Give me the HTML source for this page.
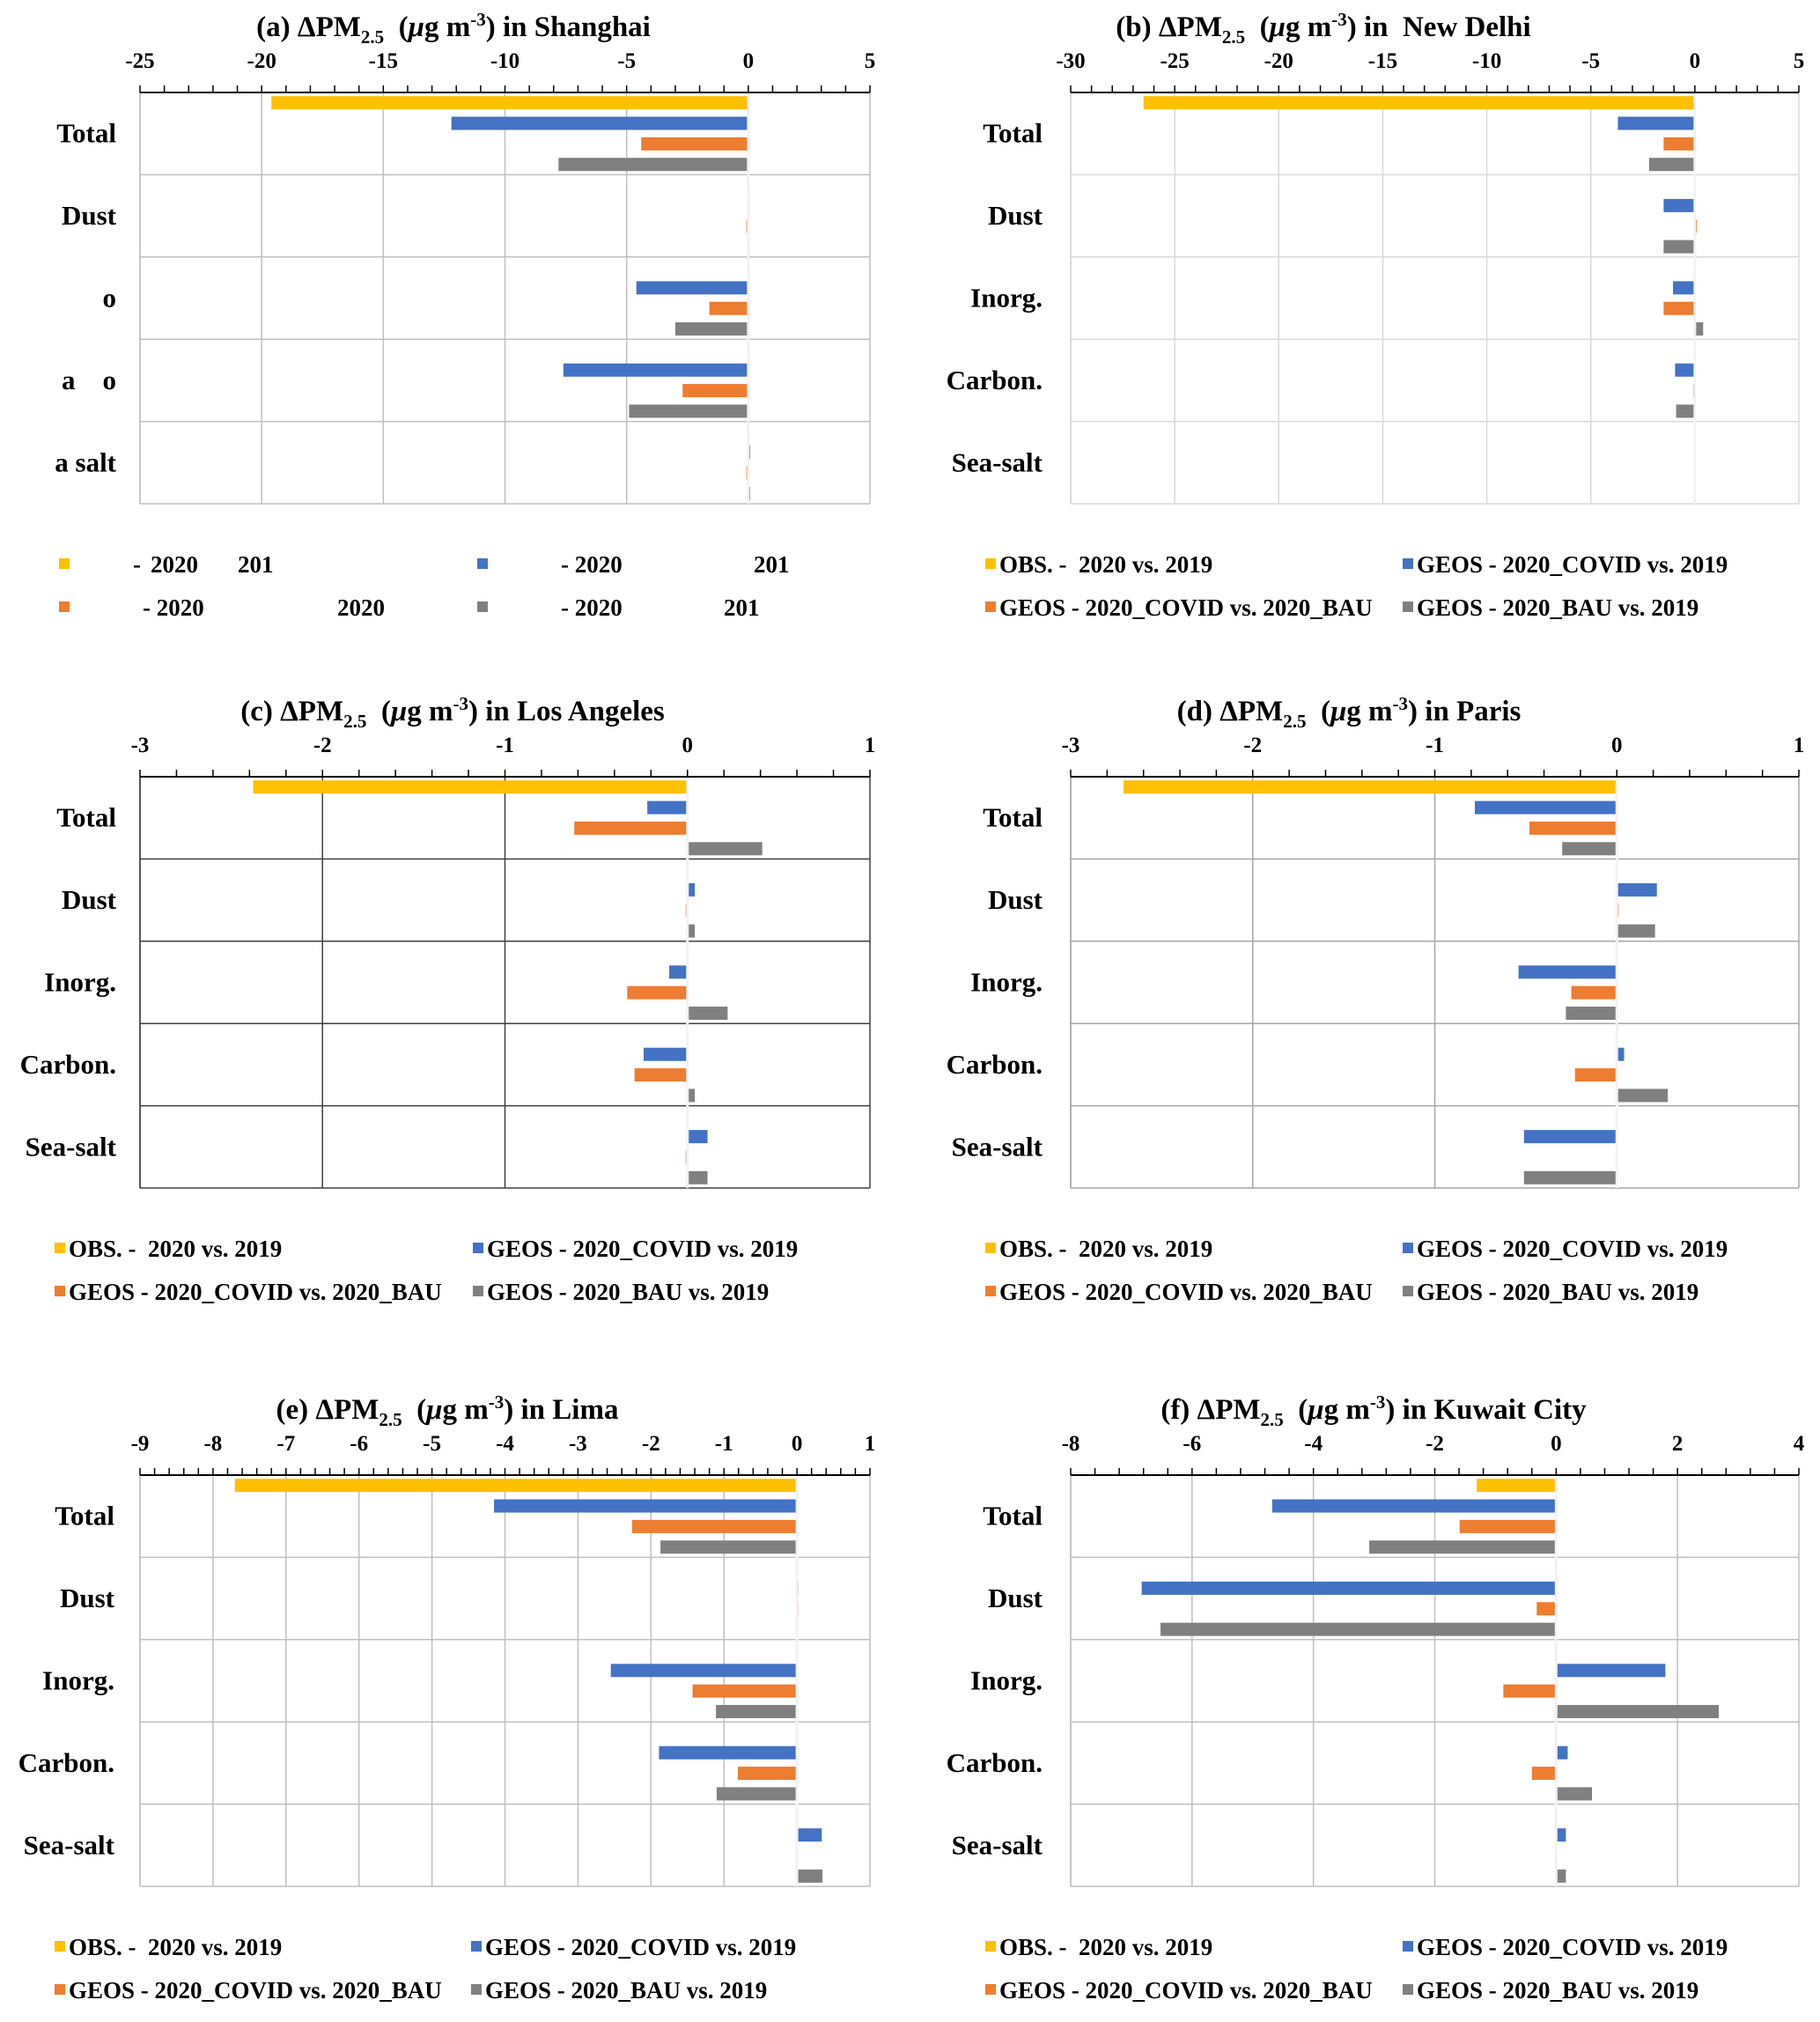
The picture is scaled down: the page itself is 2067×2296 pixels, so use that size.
<!DOCTYPE html>
<html><head><meta charset="utf-8">
<style>
html,body{margin:0;padding:0;background:#fff;}
svg{display:block;font-family:"Liberation Serif",serif;font-weight:bold;}
text{white-space:pre;}
</style></head>
<body>
<svg id="fig" width="2067" height="2296" viewBox="0 0 2067 2296" xmlns="http://www.w3.org/2000/svg"></svg>
<script>
const categories = ["Total","Dust","Inorg.","Carbon.","Sea-salt"];
const shanghaiLabels = ["Total","Dust","o","a    o","a salt"];
const shanghaiObs = [-19.6,0,0,0,0];
const shanghaiCovid = [-12.2,0.05,-4.6,-7.6,0.08];
const shanghaiCovidBau = [-4.4,-0.08,-1.6,-2.7,-0.08];
const shanghaiBau = [-7.8,0.05,-3.0,-4.9,0.08];
const delhiObs = [-26.5,0,0,0,0];
const delhiCovid = [-3.7,-1.5,-1.05,-0.95,0];
const delhiCovidBau = [-1.5,0.1,-1.5,-0.08,0];
const delhiBau = [-2.2,-1.5,0.4,-0.9,0];
const laObs = [-2.38,0,0,0,0];
const laCovid = [-0.22,0.04,-0.1,-0.24,0.11];
const laCovidBau = [-0.62,-0.01,-0.33,-0.29,-0.01];
const laBau = [0.41,0.04,0.22,0.04,0.11];
const parisObs = [-2.71,0,0,0,0];
const parisCovid = [-0.78,0.22,-0.54,0.04,-0.51];
const parisCovidBau = [-0.48,0.01,-0.25,-0.23,0];
const parisBau = [-0.30,0.21,-0.28,0.28,-0.51];
const limaObs = [-7.7,0,0,0,0];
const limaCovid = [-4.15,0.02,-2.55,-1.89,0.34];
const limaCovidBau = [-2.26,0.02,-1.43,-0.81,-0.01];
const limaBau = [-1.87,0,-1.11,-1.1,0.35];
const kuwaitObs = [-1.31,0,0,0,0];
const kuwaitCovid = [-4.68,-6.83,1.8,0.19,0.16];
const kuwaitCovidBau = [-1.59,-0.32,-0.87,-0.4,0];
const kuwaitBau = [-3.08,-6.52,2.68,0.59,0.16];
const ticksA = [-25,-20,-15,-10,-5,0,5];
const ticksB = [-30,-25,-20,-15,-10,-5,0,5];
const ticksCD = [-3,-2,-1,0,1];
const ticksE = [-9,-8,-7,-6,-5,-4,-3,-2,-1,0,1];
const ticksF = [-8,-6,-4,-2,0,2,4];
const seriesNames = ["OBS. -  2020 vs. 2019","GEOS - 2020_COVID vs. 2019","GEOS - 2020_COVID vs. 2020_BAU","GEOS - 2020_BAU vs. 2019"];
const colors = ["#FFC000","#4472C4","#ED7D31","#808080"];

const NS="http://www.w3.org/2000/svg";
const svg=document.getElementById('fig');
function mk(tag,attrs,parent){const e=document.createElementNS(NS,tag);for(const k in attrs)e.setAttribute(k,attrs[k]);(parent||svg).appendChild(e);return e;}

function panel(p){
  const g=mk('g',{});
  
  
  const x0=p.x0,x1=p.x1,y0=p.y0,y1=p.y1;
  const tmin=p.ticks[0],tmax=p.ticks[p.ticks.length-1];
  const sx=v=>x0+(v-tmin)/(tmax-tmin)*(x1-x0);
  const t=mk('text',{x:p.tx,y:y0-64,'text-anchor':'middle','font-size':33},g);
  
  
  const parts=[[p.letter+' \u0394PM',null,0],['2.5','sub',8],['  (',null,-8],['\u03BC','it',0],['g m',null,0],['-3','sup',-12],[') in '+p.city,null,12]];
  for(const [s,k,dy] of parts){const ts=mk('tspan',{},t);ts.textContent=s;
    if(k==='sub'||k==='sup'){ts.setAttribute('font-size','21');}
    if(k==='it'){ts.setAttribute('font-style','italic');}
    if(dy)ts.setAttribute('dy',dy);
  }
  p.ticks.forEach(v=>{
    const l=mk('line',{x1:sx(v),x2:sx(v),y1:y0,y2:y1,stroke:p.grid,'stroke-width':1.5},g);
    
    
    const tl=mk('text',{x:sx(v),y:y0-28,'text-anchor':'middle','font-size':25},g);
    
    
    tl.textContent=v;
  });
  const bh=(y1-y0)/categories.length;
  for(let i=0;i<=categories.length;i++){
    mk('line',{x1:x0,x2:x1,y1:y0+i*bh,y2:y0+i*bh,stroke:p.grid,'stroke-width':1.5},g);
  }
  mk('line',{x1:x0,x2:x0,y1:y0,y2:y1,stroke:p.grid,'stroke-width':1.5},g);
  const series=p.series;
  const slot=bh/4, th=15;
  categories.forEach((c,ci)=>{
    series.forEach((arr,si)=>{
      const v=arr[ci];
      const yy=y0+ci*bh+si*slot+(slot-th)/2;
      const a=sx(Math.min(0,v)),b=sx(Math.max(0,v));
      const r=mk('rect',{x:a,y:yy,width:Math.max(b-a,0.01),height:th,fill:colors[si]},g);
      
      
    });
    const lab=mk('text',{x:p.lx,y:y0+ci*bh+bh/2+10,'text-anchor':'end','font-size':31},g);
    
    
    lab.textContent=p.labels[ci];
  });
  mk('line',{x1:sx(0),x2:sx(0),y1:y0,y2:y1,stroke:'#f2f2f2','stroke-width':3},g);
  const ax=mk('line',{x1:x0,x2:x1,y1:y0,y2:y0,stroke:'#000','stroke-width':2},g);
  
  
  const step=(p.ticks[1]-p.ticks[0])/p.minor;
  for(let v=tmin;v<=tmax+1e-9;v+=step){mk('line',{x1:sx(v),x2:sx(v),y1:y0,y2:y0-8,stroke:'#000','stroke-width':1.5},g);}
  if(p.legend){
    p.legend.forEach((L,li)=>{
      const col=li%2,row=Math.floor(li/2);
      const ly=y1+68+row*49;
      const sqx=col?p.lc2:p.lc1;
      const sq=mk('rect',{x:sqx,y:ly-6,width:12,height:12,fill:colors[li]},g);
      
      
      L.forEach(([dx,txt])=>{
        const lt=mk('text',{x:sqx+dx,y:ly+10,'font-size':27},g);
        
        
        lt.textContent=txt;
      });
    });
  }
}
function fullLegend(){return seriesNames.map(s=>[[16,s]]);}
const L1=159,R1=988,L2=1216,R2=2043;
panel({id:'shanghai',letter:'(a)',city:'Shanghai',tx:515,x0:L1,x1:R1,y0:105,y1:572,ticks:ticksA,minor:5,grid:'#bfbfbf',lx:132,labels:shanghaiLabels,
  series:[shanghaiObs,shanghaiCovid,shanghaiCovidBau,shanghaiBau],lc1:67,lc2:542,
  legend:[[[84,'-'],[104,'2020'],[203,'201']],[[95,'- 2020'],[314,'201']],[[95,'- 2020'],[316,'2020']],[[95,'- 2020'],[280,'201']]]});
panel({id:'new-delhi',letter:'(b)',city:' New Delhi',tx:1503,x0:L2,x1:R2,y0:105,y1:572,ticks:ticksB,minor:5,grid:'#d9d9d9',lx:1184,labels:categories,
  series:[delhiObs,delhiCovid,delhiCovidBau,delhiBau],lc1:1119,lc2:1593,legend:fullLegend()});
panel({id:'los-angeles',letter:'(c)',city:'Los Angeles',tx:514,x0:L1,x1:R1,y0:882,y1:1349,ticks:ticksCD,minor:5,grid:'#404040',lx:132,labels:categories,
  series:[laObs,laCovid,laCovidBau,laBau],lc1:62,lc2:537,legend:fullLegend()});
panel({id:'paris',letter:'(d)',city:'Paris',tx:1532,x0:L2,x1:R2,y0:882,y1:1349,ticks:ticksCD,minor:5,grid:'#a6a6a6',lx:1184,labels:categories,
  series:[parisObs,parisCovid,parisCovidBau,parisBau],lc1:1119,lc2:1593,legend:fullLegend()});
panel({id:'lima',letter:'(e)',city:'Lima',tx:508,x0:L1,x1:R1,y0:1675,y1:2142,ticks:ticksE,minor:5,grid:'#bfbfbf',lx:130,labels:categories,
  series:[limaObs,limaCovid,limaCovidBau,limaBau],lc1:62,lc2:535,legend:fullLegend()});
panel({id:'kuwait-city',letter:'(f)',city:'Kuwait City',tx:1560,x0:L2,x1:R2,y0:1675,y1:2142,ticks:ticksF,minor:5,grid:'#bfbfbf',lx:1184,labels:categories,
  series:[kuwaitObs,kuwaitCovid,kuwaitCovidBau,kuwaitBau],lc1:1119,lc2:1593,legend:fullLegend()});
</script>
</body></html>
